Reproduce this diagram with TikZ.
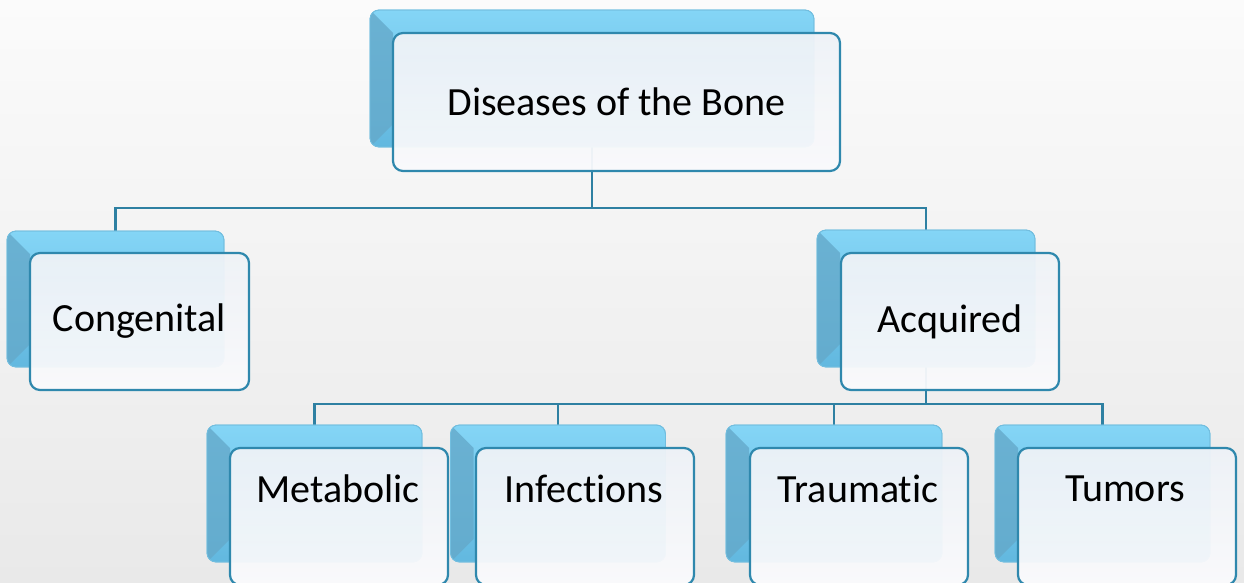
\documentclass[tikz,border=0pt]{standalone}
\usepackage{fontspec}
\setmainfont{Carlito}[Ligatures=NoCommon]
\usetikzlibrary{calc}
\definecolor{bgtop}{HTML}{FBFBFB}
\definecolor{bgbot}{HTML}{E9E9E9}
\definecolor{backtop}{HTML}{84D5F6}
\definecolor{backbot}{HTML}{62B8DF}
\definecolor{backedge}{HTML}{72BEDF}
\definecolor{bevel}{HTML}{64A9CA}
\definecolor{fronttop}{HTML}{EEF2F7}
\definecolor{frontbot}{HTML}{FAFAFC}
\definecolor{frontedge}{HTML}{2F88AD}
\definecolor{linecol}{HTML}{2E80A2}
\pgfdeclarelayer{shade}
\pgfdeclarelayer{conn}
\pgfsetlayers{shade,conn,main}
\tikzset{
  backbox/.style={rectangle, rounded corners=9pt, inner sep=0pt, outer sep=0pt,
    top color=backtop, bottom color=backbot, draw=backedge, line width=0.8pt},
  frontbox/.style={rectangle, rounded corners=10pt, inner sep=0pt, outer sep=0pt,
    top color=fronttop, bottom color=frontbot, fill opacity=0.95, text opacity=1,
    draw=frontedge, line width=2.2pt, font=\fontsize{40}{48}\selectfont},
  lbl/.style={inner sep=0pt, font=\fontsize{40}{48}\selectfont},
  conn/.style={draw=linecol, line width=2.4pt},
}
\newcommand\bevelpart[1]{%
  \begin{scope}
    \clip[rounded corners=9pt] (#1.north west) rectangle (#1.south east);
    \fill[bevel, opacity=0.8] (#1.north west) -- ([shift={(23,23)}]#1.north west)
      -- ([shift={(23,-23)}]#1.south west) -- (#1.south west) -- cycle;
  \end{scope}
  \draw[backedge, line width=0.8pt, rounded corners=9pt] (#1.north west) rectangle (#1.south east);
}
\begin{document}
\begin{tikzpicture}[x=1pt,y=-1pt]
\useasboundingbox (0,0) rectangle (1244,583);
\clip (0,0) rectangle (1244,583);
\begin{pgfonlayer}{shade}
  \shade[top color=bgtop, bottom color=bgbot] (0,0) rectangle (1244,583);
\end{pgfonlayer}

% top
\node[backbox, minimum width=444pt, minimum height=137pt] (btop) at (592,78.5) {};
\bevelpart{btop}
\node[frontbox, minimum width=447pt, minimum height=138pt] (ftop) at (616.5,102) {Diseases of the Bone};

% second level
\node[backbox, minimum width=217pt, minimum height=136pt] (bcong) at (115.5,299) {};
\bevelpart{bcong}
\node[frontbox, minimum width=219pt, minimum height=137pt] (fcong) at (139.5,321.5) {Congenital};

\node[backbox, minimum width=218pt, minimum height=137pt] (bacq) at (926,298.5) {};
\bevelpart{bacq}
\node[frontbox, minimum width=218pt, minimum height=137pt] (facq) at (950,321.5) {Acquired};

% third level
\node[backbox, minimum width=215pt, minimum height=137pt] (bmet) at (314.5,493.5) {};
\bevelpart{bmet}
\node[frontbox, minimum width=218pt, minimum height=137pt] (fmet) at (339,516.5) {};
\node[lbl] (tmet) at (338,489) {Metabolic};

\node[backbox, minimum width=215pt, minimum height=137pt] (binf) at (558,493.5) {};
\bevelpart{binf}
\node[frontbox, minimum width=218pt, minimum height=137pt] (finf) at (585,516.5) {};
\node[lbl] (tinf) at (584,489) {Infections};

\node[backbox, minimum width=216pt, minimum height=137pt] (btra) at (834,493.5) {};
\bevelpart{btra}
\node[frontbox, minimum width=218pt, minimum height=137pt] (ftra) at (859,516.5) {};
\node[lbl] (ttra) at (858,489) {Traumatic};

\node[backbox, minimum width=215pt, minimum height=137pt] (btum) at (1102.5,493.5) {};
\bevelpart{btum}
\node[frontbox, minimum width=218pt, minimum height=137pt] (ftum) at (1127,516.5) {};
\node[lbl] (ttum) at (1125,489) {Tumors};

% connectors
\begin{pgfonlayer}{conn}
  \coordinate (j1) at (btop.south |- 0,208);
  \coordinate (j2) at (bacq.south |- 0,404);
  \draw[conn] (btop.south) -- (j1);
  \draw[conn] (bcong.north) |- (j1) -| (bacq.north);
  \draw[conn] (bacq.south) -- (j2);
  \draw[conn] (bmet.north) |- (j2) -| (btum.north);
  \draw[conn] (binf.north) -- (binf.north |- j2);
  \draw[conn] (btra.north) -- (btra.north |- j2);
\end{pgfonlayer}
\end{tikzpicture}
\end{document}
